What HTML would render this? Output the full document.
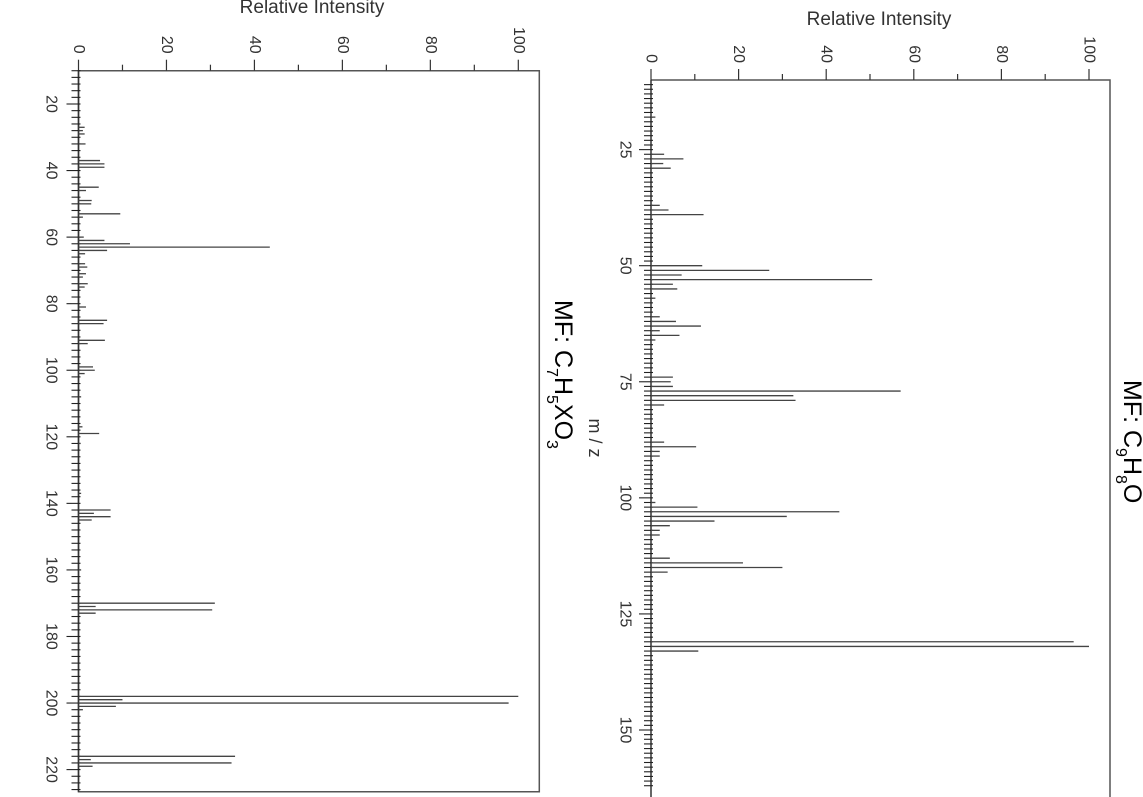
<!DOCTYPE html>
<html><head><meta charset="utf-8"><style>
html,body{margin:0;padding:0;background:#fff;}
svg{display:block;font-family:"Liberation Sans",sans-serif;}
</style></head><body>
<svg id="chart" width="1143" height="797" viewBox="0 0 1143 797">
<text x="312" y="13" font-size="19" fill="#333" text-anchor="middle">Relative Intensity</text>
<text x="879" y="25" font-size="19" fill="#333" text-anchor="middle">Relative Intensity</text>
<text transform="translate(595,438) rotate(90)" font-size="18" fill="#333" text-anchor="middle" dominant-baseline="central">m / z</text>
<text transform="translate(555,300) rotate(90)" font-size="25" fill="#000">MF: C<tspan font-size="16" dy="8">7</tspan><tspan dy="-8">H</tspan><tspan font-size="16" dy="8">5</tspan><tspan dy="-8">XO</tspan><tspan font-size="16" dy="8">3</tspan></text>
<text transform="translate(1124,380) rotate(90)" font-size="25" fill="#000">MF: C<tspan font-size="16" dy="8">9</tspan><tspan dy="-8">H</tspan><tspan font-size="16" dy="8">8</tspan><tspan dy="-8">O</tspan></text>
<g id="left"></g>
<g id="right"></g>
</svg>
<script>
const leftMz = [27,28,29,32,37,38,39,45,46,49,50,53,54,60,61,62,63,64,65,68,69,71,72,74,75,81,85,86,91,92,99,100,101,108,117,119,122,137,142,143,144,145,160,170,171,172,173,198,199,200,201,202,216,217,218,219];
const leftInt = [1.4,1,1.4,1.6,4.9,5.9,5.9,4.6,1.7,3,2.9,9.5,1,1.2,5.9,11.7,43.5,6.5,1.5,1.5,2,1.7,1,2.1,1.4,1.7,6.5,5.7,6,2.1,3.3,3.7,1.4,0.6,0.9,4.7,0.5,0.6,7.3,3.5,7.3,3,0.6,31,3.9,30.4,3.9,100,10,97.8,8.5,1,35.6,2.8,34.8,3.2];
const rightMz = [18,26,27,28,29,37,38,39,50,51,52,53,54,55,57,61,62,63,64,65,66,74,75,76,77,78,79,80,88,89,90,91,101,102,103,104,105,106,107,108,113,114,115,116,131,132,133];
const rightInt = [1,3,7.4,2.8,4.5,2,4,12,11.7,27,7,50.5,5,6,1,2,5.7,11.4,2,6.5,1,5,4.5,5,57,32.5,33,3,3,10.3,2,2,1,10.6,43,31,14.5,4.3,2,2,4.3,21,30,3.8,96.5,100,10.8];
const intTicks = [0,20,40,60,80,100];
const leftMzTicks = [20,40,60,80,100,120,140,160,180,200,220];
const rightMzTicks = [25,50,75,100,125,150];

const NS = "http://www.w3.org/2000/svg";
function el(tag, attrs, parent){const e=document.createElementNS(NS,tag);for(const k in attrs)e.setAttribute(k,attrs[k]);parent.appendChild(e);return e;}

function panel(g, cfg, mzs, ints, mzTicks, minorStep, prefix){
  const X = v => cfg.x0 + v*(cfg.x100-cfg.x0)/100;
  const Y = m => cfg.ya + (m-cfg.ma)*cfg.ppu;
  // frame
  const fr = el('path',{d:`M${cfg.x0} ${cfg.top} H${cfg.right} V${cfg.bottom} ${cfg.closeBottom?('H'+cfg.x0+' Z'):''}`,fill:'none',stroke:'#555','stroke-width':1.5},g);
  
  
  const ax = el('line',{x1:cfg.x0,y1:cfg.top,x2:cfg.x0,y2:cfg.bottom,stroke:'#333','stroke-width':1.5},g);
  
  
  // intensity ticks
  for(let v=0; v<=100; v+=10){
    const major = v%20===0;
    el('line',{x1:X(v),x2:X(v),y1:cfg.top-(major?11:6),y2:cfg.top,stroke:'#333','stroke-width':1.2},g);
  }
  intTicks.forEach(v=>{
    const t = el('text',{transform:`translate(${X(v)},${cfg.top-17}) rotate(90)`,'font-size':16,fill:'#333','text-anchor':'end','dominant-baseline':'central'},g);
    t.textContent = v;
    
    
  });
  // mz ticks
  const mStart = Math.ceil(cfg.mMin/minorStep)*minorStep;
  for(let m=mStart; m<=cfg.mMax; m+=minorStep){
    const major = mzTicks.includes(m);
    el('line',{x1:cfg.x0-(major?12:7),x2:cfg.x0+2,y1:Y(m),y2:Y(m),stroke:'#222','stroke-width':1.1},g);
  }
  mzTicks.forEach(m=>{
    const t = el('text',{transform:`translate(${cfg.labX},${Y(m)}) rotate(90)`,'font-size':16,fill:'#333','text-anchor':'middle','dominant-baseline':'central'},g);
    t.textContent = m;
    
    
  });
  // bars
  mzs.forEach((m,i)=>{
    const b = el('line',{x1:cfg.x0,x2:X(ints[i]),y1:Y(m),y2:Y(m),stroke:'#444','stroke-width':1.3},g);
    
    
  });
}

panel(document.getElementById('left'),
  {x0:78.5,x100:518.3,top:70.7,right:539.3,bottom:791.7,closeBottom:true,ya:104,ma:20,ppu:3.328,mMin:10,mMax:226,labX:51},
  leftMz,leftInt,leftMzTicks,2,'left');
panel(document.getElementById('right'),
  {x0:651,x100:1089,top:80,right:1110,bottom:800,closeBottom:false,ya:265.7,ma:50,ppu:4.643,mMin:11,mMax:162,labX:625},
  rightMz,rightInt,rightMzTicks,1,'right');
</script>
</body></html>
